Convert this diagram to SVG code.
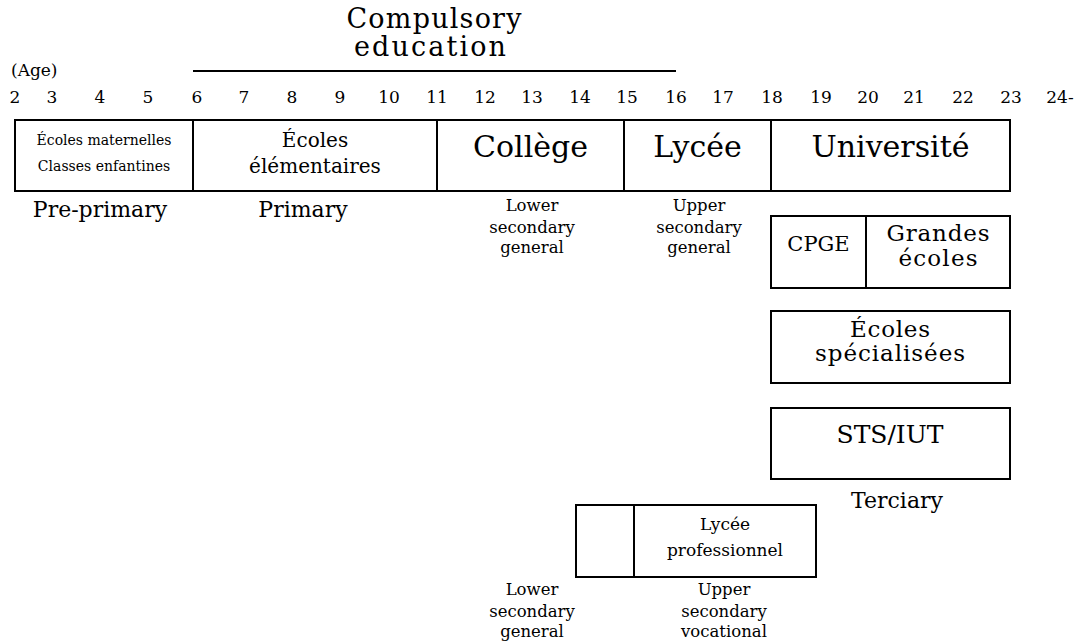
<svg xmlns="http://www.w3.org/2000/svg" width="1079" height="644" viewBox="0 0 1079 644">
<style>
text{font-family:"DejaVu Serif","Liberation Serif",serif;fill:#000;text-anchor:middle}
.box{fill:#fff;stroke:#000;stroke-width:2}
.div{stroke:#000;stroke-width:2}
.age{font-size:17px}
.lbl{font-size:16.5px}
</style>
<rect width="1079" height="644" fill="#fff"/>
<g id="compulsory">
<text x="434" y="28" font-size="27" textLength="175">Compulsory</text>
<text x="430" y="56" font-size="27" textLength="152">education</text>
<line x1="193" y1="71" x2="676" y2="71" class="div"/>
</g>
<g id="ages">
<text x="11" y="76" font-size="17" style="text-anchor:start">(Age)</text>
<text class="age" x="15" y="103">2</text>
<text class="age" x="52" y="103">3</text>
<text class="age" x="100" y="103">4</text>
<text class="age" x="148" y="103">5</text>
<text class="age" x="197" y="103">6</text>
<text class="age" x="244" y="103">7</text>
<text class="age" x="292" y="103">8</text>
<text class="age" x="340" y="103">9</text>
<text class="age" x="389" y="103">10</text>
<text class="age" x="437" y="103">11</text>
<text class="age" x="485" y="103">12</text>
<text class="age" x="532" y="103">13</text>
<text class="age" x="580" y="103">14</text>
<text class="age" x="627" y="103">15</text>
<text class="age" x="676" y="103">16</text>
<text class="age" x="723" y="103">17</text>
<text class="age" x="772" y="103">18</text>
<text class="age" x="821" y="103">19</text>
<text class="age" x="868" y="103">20</text>
<text class="age" x="914" y="103">21</text>
<text class="age" x="963" y="103">22</text>
<text class="age" x="1011" y="103">23</text>
<text class="age" x="1060" y="103">24-</text>
</g>
<g id="preprimary">
<rect class="box" x="15" y="120" width="178" height="71"/>
<text x="104" y="145" font-size="14">Écoles maternelles</text>
<text x="104" y="171" font-size="14">Classes enfantines</text>
<text x="100" y="217" font-size="22">Pre-primary</text>
</g>
<g id="primary">
<rect class="box" x="193" y="120" width="244" height="71"/>
<text x="315" y="147" font-size="20">Écoles</text>
<text x="315" y="173" font-size="20">élémentaires</text>
<text x="303" y="217" font-size="22">Primary</text>
</g>
<g id="college">
<rect class="box" x="437" y="120" width="187" height="71"/>
<text x="530.5" y="157" font-size="30">Collège</text>
<text class="lbl" x="532" y="211">Lower</text>
<text class="lbl" x="532" y="233">secondary</text>
<text class="lbl" x="532" y="253">general</text>
</g>
<g id="lycee">
<rect class="box" x="624" y="120" width="147" height="71"/>
<text x="697.5" y="157" font-size="30">Lycée</text>
<text class="lbl" x="699" y="211">Upper</text>
<text class="lbl" x="699" y="233">secondary</text>
<text class="lbl" x="699" y="253">general</text>
</g>
<g id="universite">
<rect class="box" x="771" y="120" width="239" height="71"/>
<text x="890.5" y="157" font-size="30">Université</text>
</g>
<g id="cpge">
<rect class="box" x="771" y="216" width="95" height="72"/>
<text x="818.5" y="251" font-size="21">CPGE</text>
</g>
<g id="grandes-ecoles">
<rect class="box" x="866" y="216" width="144" height="72"/>
<text x="938" y="241" font-size="23" textLength="103">Grandes</text>
<text x="938" y="266" font-size="23" textLength="79">écoles</text>
</g>
<g id="ecoles-specialisees">
<rect class="box" x="771" y="311" width="239" height="72"/>
<text x="890" y="337" font-size="23" textLength="80">Écoles</text>
<text x="890" y="361" font-size="23" textLength="150">spécialisées</text>
</g>
<g id="sts-iut">
<rect class="box" x="771" y="408" width="239" height="71"/>
<text x="890" y="443" font-size="25">STS/IUT</text>
<text x="897" y="508" font-size="22">Terciary</text>
</g>
<g id="lower-voc">
<rect class="box" x="576" y="505" width="58" height="72"/>
<text class="lbl" x="532" y="595">Lower</text>
<text class="lbl" x="532" y="617">secondary</text>
<text class="lbl" x="532" y="637">general</text>
</g>
<g id="lycee-pro">
<rect class="box" x="634" y="505" width="182" height="72"/>
<text x="725" y="530" font-size="17">Lycée</text>
<text x="725" y="556" font-size="17">professionnel</text>
<text class="lbl" x="724" y="595">Upper</text>
<text class="lbl" x="724" y="617">secondary</text>
<text class="lbl" x="724" y="637">vocational</text>
</g>
<g id="connectors"></g>
</svg>
